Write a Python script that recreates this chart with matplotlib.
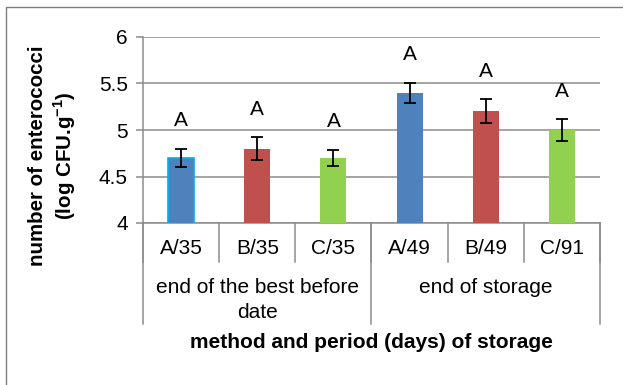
import matplotlib
matplotlib.use("Agg")
import matplotlib.pyplot as plt
import matplotlib.transforms as mtransforms
from matplotlib.patches import Rectangle
import numpy as np

plt.rcParams.update({
    "font.family": ["Liberation Sans", "DejaVu Sans"],
    "font.size": 15,
    "mathtext.fontset": "custom",
    "mathtext.rm": "Liberation Sans",
    "mathtext.bf": "Liberation Sans:bold",
})

# ── data ──────────────────────────────────────────────────────────────
categories = ["A/35", "B/35", "C/35", "A/49", "B/49", "C/91"]
means = [4.70, 4.80, 4.70, 5.40, 5.20, 5.00]
errors = [0.10, 0.12, 0.09, 0.11, 0.13, 0.12]
letters = ["A", "A", "A", "A", "A", "A"]
groups = ["end of the best before\ndate", "end of storage"]
group_sizes = [3, 3]
yticks = [4, 4.5, 5, 5.5, 6]

C_BLUE = "#4F81BD"
C_RED = "#C0504D"
C_GREEN = "#92D050"
bar_colors = [C_BLUE, C_RED, C_GREEN, C_BLUE, C_RED, C_GREEN]
edge_colors = ["#00B0F0", "none", "none", "none", "none", "none"]
GRID = "#8C8C8C"

fig = plt.figure(figsize=(6.23, 3.85), dpi=100)
W, H = 623, 385
ax = fig.add_axes([143 / W, 1 - 223 / H, (600 - 143) / W, (223 - 37) / H])

# chart area border (cut at right/bottom like the reference)
fig.patches.append(Rectangle((6 / W, -0.1), 2, 1 - 7.5 / H + 0.1,
                             transform=fig.transFigure, fill=False,
                             edgecolor="#7F7F7F", lw=1.0))

x = np.arange(len(categories))
ax.bar(x, means, width=0.34, color=bar_colors, edgecolor=edge_colors,
       linewidth=1.2, zorder=3)
ax.errorbar(x, means, yerr=errors, fmt="none", ecolor="black",
            elinewidth=1.3, capsize=4.5, capthick=1.3, zorder=4)

for xi, m, e, lab in zip(x, means, errors, letters):
    ax.annotate(lab, xy=(xi, m + e), xytext=(0, 20), textcoords="offset points",
                ha="center", va="center", fontsize=15)

ax.set_ylim(4, 6)
ax.set_xlim(-0.5, len(categories) - 0.5)
ax.set_yticks(yticks)
ax.set_yticklabels([f"{t:g}" for t in yticks])
ax.yaxis.grid(True, color=GRID, lw=1.1, zorder=0)
ax.set_axisbelow(True)
ax.set_xticks([])
for s in ["top", "right"]:
    ax.spines[s].set_visible(False)
for s in ["left", "bottom"]:
    ax.spines[s].set_color(GRID)
    ax.spines[s].set_linewidth(1.1)
ax.tick_params(axis="y", length=5, color=GRID, width=1.1, pad=6, labelsize=15)

# ── category axis ─────────────────────────────────────────────────────
trans = mtransforms.blended_transform_factory(ax.transData, ax.transAxes)
ph = 223 - 37
for i, c in enumerate(categories):
    ax.text(i, -(248 - 223) / ph, c, transform=trans, ha="center",
            va="center", fontsize=15)
for b in range(len(categories) + 1):
    ax.plot([b - 0.5, b - 0.5], [0, -(262 - 223) / ph], transform=trans,
            color=GRID, lw=1.1, clip_on=False)
start = 0
for g, n in zip(groups, group_sizes):
    ax.plot([start - 0.5, start - 0.5], [0, -(324 - 223) / ph], transform=trans,
            color=GRID, lw=1.1, clip_on=False)
    ax.text(start + (n - 1) / 2, -(278 - 223) / ph, g, transform=trans,
            ha="center", va="top", fontsize=15, linespacing=1.4)
    start += n
ax.plot([start - 0.5, start - 0.5], [0, -(324 - 223) / ph], transform=trans,
        color=GRID, lw=1.1, clip_on=False)

fig.text(371 / W, 1 - 343 / H, "method and period (days) of storage",
         ha="center", va="center", fontsize=15, fontweight="bold")
fig.text(38 / W, 1 - 156 / H, "number of enterococci", rotation=90,
         ha="center", va="center", fontsize=14.8, fontweight="bold")
fig.text(65 / W, 1 - 156 / H, "(log CFU.g$^{\\mathbf{-1}}$)", rotation=90,
         ha="center", va="center", fontsize=14.8, fontweight="bold")

fig.savefig("out.png", dpi=100)
